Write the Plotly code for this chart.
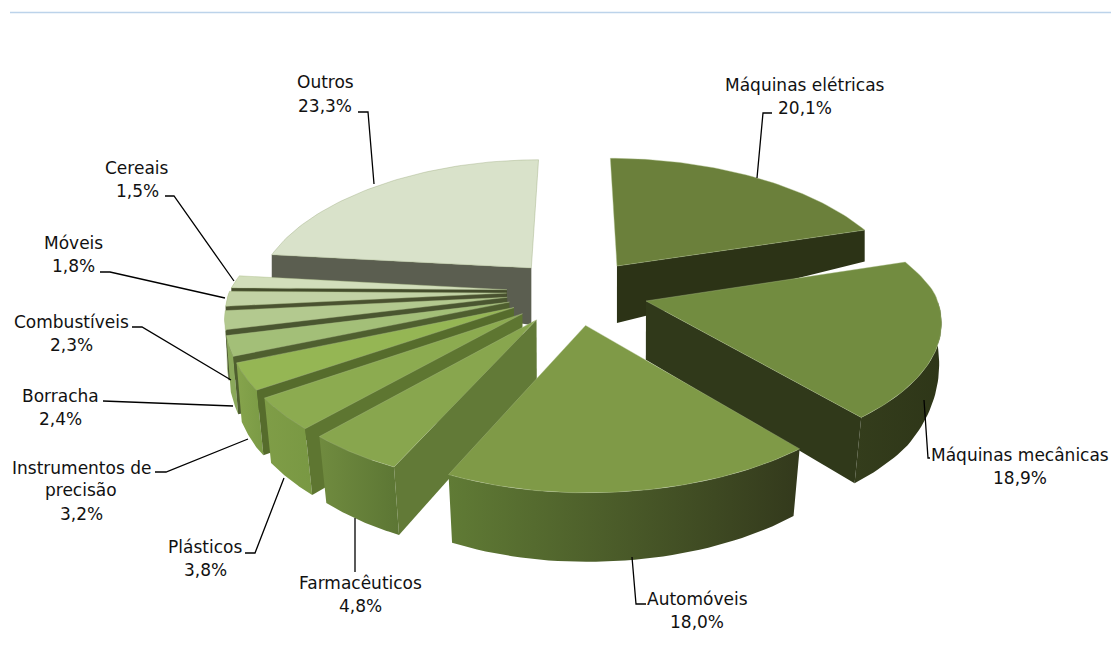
import numpy as np
import plotly.graph_objects as go

# ---- data (clockwise from 12 o'clock) ----
names = ["Máquinas elétricas", "Máquinas mecânicas", "Automóveis", "Farmacêuticos", "Plásticos",
         "Instrumentos de|precisão", "Borracha", "Combustíveis", "Móveis", "Cereais", "Outros"]
shares = [20.1, 18.9, 18.0, 4.8, 3.8, 3.2, 2.4, 2.3, 1.8, 1.5, 23.3]

# ---- styles ----
top_colors = ["#6b803b", "#728c40", "#7f9a47", "#88a64e", "#8cab50", "#95b654", "#a3bf78",
              "#b3c98f", "#c2d2a5", "#d2debb", "#d9e2ca"]
cut_colors = ["#2c3316", "#30391a", "#30391a", "#627a37", "#5e7631", "#566c2c", "#4f5f2f",
              "#4a5630", "#4a5230", "#444c2c", "#5b5e50"]
wall_colors = [("#2c3316", "#2c3316"), ("#343d1c", "#2e3618"), ("#607b35", "#33391c"),
               ("#708b3f", "#5c7634"), ("#7f9d47", "#799843"), ("#86a44c", "#7a9a45"),
               ("#8aa85a", "#8aa85a"), ("#a5be7f", "#a5be7f"), ("#b9cb97", "#b9cb97"),
               ("#c8d6ac", "#c8d6ac"), ("#d9e2ca", "#d9e2ca")]
draw_order = [0, 10, 9, 8, 7, 6, 5, 4, 3, 1, 2]

EXPLODE = 0.25
CX, CY, A, B = 576, 291.7, 289, 131


def project(X, Y):
    X, Y = np.asarray(X, float), np.asarray(Y, float)
    kx = np.where(Y > 0, 0.2, 0.13)
    side = np.where(X < 0, 0.96, 1.0)
    sx = CX + A * side * X / (1 + kx * Y)
    sy = CY - B * Y / (1 + 0.15 * Y)
    t = 59 - 8 * Y - X ** 2 * np.clip(14 + 22 * Y, 0, 19.5)
    return sx, sy, sx - 9 * X * np.clip(-Y, 0, 1), sy + t


def poly(x, y, color, gradient=None, line=None):
    kw = dict(x=list(x) + [x[0]], y=list(y) + [y[0]], mode="lines", fill="toself",
              hoverinfo="skip", showlegend=False,
              line=dict(width=line[1], color=line[0]) if line else dict(width=0))
    if gradient:
        kw["fillgradient"] = dict(type="horizontal", colorscale=[[0, gradient[0]], [1, gradient[1]]])
    else:
        kw["fillcolor"] = color
    return go.Scatter(**kw)


fig = go.Figure()
total = sum(shares)
edges = np.cumsum([0] + shares) / total * 2 * np.pi
rim = "#a9bb85"

for i in draw_order:
    a1, a2 = edges[i], edges[i + 1]
    mid = (a1 + a2) / 2
    ox, oy = EXPLODE * np.sin(mid), EXPLODE * np.cos(mid)
    th = np.linspace(a1, a2, 60)
    X, Y = ox + np.sin(th), oy + np.cos(th)
    sx, sy, bx, by = project(X, Y)
    ax, ay, abx, aby = project(ox, oy)

    # outer wall, near half only
    lo, hi = max(a1, np.pi / 2), min(a2, np.radians(275))
    if hi > lo:
        w = np.linspace(lo, hi, 40)
        wx, wy, wbx, wby = project(ox + np.sin(w), oy + np.cos(w))
        px = np.concatenate([wx, wbx[::-1]])
        py = np.concatenate([wy, wby[::-1]])
        c1, c2 = wall_colors[i]
        fig.add_trace(poly(px, py, None, gradient=(c1, c2)))
    # radial cut faces that look towards the viewer
    if np.sin(a1) < -1e-6:
        fig.add_trace(poly([float(ax), sx[0], bx[0], float(abx)],
                           [float(ay), sy[0], by[0], float(aby)], cut_colors[i]))
    if np.sin(a2) > 1e-6:
        fig.add_trace(poly([float(ax), sx[-1], bx[-1], float(abx)],
                           [float(ay), sy[-1], by[-1], float(aby)], cut_colors[i]))
    # top face
    fig.add_trace(poly([float(ax)] + list(sx), [float(ay)] + list(sy), top_colors[i],
                       line=(rim if i != 10 else "#9aaa7c", 0.4)))

# ---- leader lines (pixel layout) ----
leaders = [
    [(772, 113), (763, 113), (757, 178)],
    [(930, 458), (928, 458), (924, 400)],
    [(646, 604), (636, 604), (632, 557)],
    [(355, 518), (355, 572)],
    [(245, 553), (255, 553), (284, 478)],
    [(155, 472), (166, 472), (248, 439)],
    [(103, 401), (233, 406)],
    [(132, 327), (142, 327), (231, 380)],
    [(100, 272), (110, 272), (225, 298)],
    [(165, 196), (174, 196), (234, 281)],
    [(358, 112), (368, 112), (374, 184)],
]
for pts in leaders:
    fig.add_trace(go.Scatter(x=[p[0] for p in pts], y=[p[1] for p in pts], mode="lines",
                             line=dict(color="#000000", width=1.3), hoverinfo="skip", showlegend=False))

# ---- labels: one (x, y) per text line, centred ----
label_pos = [
    [(805, 85), (805, 108)],
    [(1020, 455), (1020, 478)],
    [(697, 599), (697, 622)],
    [(360, 583), (360, 606)],
    [(205, 547), (205, 570)],
    [(81, 468), (81, 490), (81, 514)],
    [(60, 396), (60, 419)],
    [(71, 322), (71, 345)],
    [(73, 243), (73, 266)],
    [(137, 168), (137, 191)],
    [(325, 82), (325, 106)],
]
for name, share, pos in zip(names, shares, label_pos):
    lines = name.split("|") + [f"{share:.1f}".replace(".", ",") + "%"]
    for text, (x, y) in zip(lines, pos):
        fig.add_annotation(x=x, y=y, text=text, showarrow=False, xanchor="center", yanchor="middle",
                           font=dict(family="DejaVu Sans", size=17, color="#111111"))

fig.add_shape(type="line", x0=10, x1=1111, y0=12.5, y1=12.5, line=dict(color="#bcd3ea", width=1.5))
fig.update_layout(width=1111, height=648, margin=dict(l=0, r=0, t=0, b=0), autosize=False,
                  paper_bgcolor="white", plot_bgcolor="white", showlegend=False,
                  xaxis=dict(range=[0, 1111], visible=False, fixedrange=True),
                  yaxis=dict(range=[648, 0], visible=False, fixedrange=True))
fig.write_html("out.html", config={"displayModeBar": False},
               post_script="document.body.style.margin='0';document.documentElement.style.overflow='hidden';")
